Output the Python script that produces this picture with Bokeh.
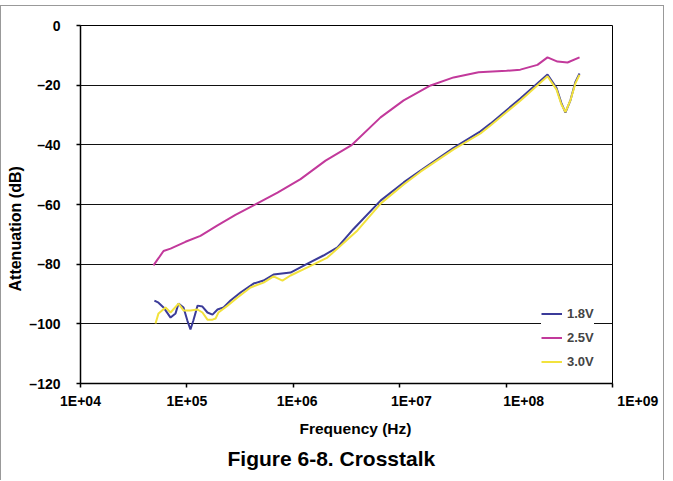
from bokeh.plotting import figure
from bokeh.models import (FixedTicker, CustomJSTickFormatter, Legend,
                          LegendItem, Title)
from bokeh.embed import file_html
from bokeh.resources import INLINE

# ---------------- data ----------------
freq_18 = [4.95e4, 5.41e4, 6.03e4, 7.02e4, 7.82e4, 8.34e4, 9.29e4, 1.01e5,
           1.08e5, 1.15e5, 1.26e5, 1.40e5, 1.56e5, 1.74e5, 1.94e5, 2.21e5,
           2.57e5, 3.19e5, 4.23e5, 5.25e5, 6.52e5, 9.42e5, 1.36e6, 1.92e6,
           2.60e6, 3.68e6, 6.61e6, 1.09e7, 1.57e7, 3.21e7, 5.74e7, 7.13e7,
           1.36e8, 2.45e8, 2.98e8, 3.31e8, 3.61e8, 4.03e8, 4.47e8, 4.90e8]
att_18 = [-92.2, -92.9, -94.5, -97.9, -96.5, -93.2, -94.5, -98.9,
          -101.9, -98.9, -93.9, -94.2, -96.2, -96.9, -95.2, -94.5,
          -92.2, -89.5, -86.5, -85.5, -83.5, -82.8, -79.8, -77.1,
          -74.4, -68.2, -58.7, -52.6, -48.6, -41.0, -35.5, -32.9,
          -24.5, -16.4, -21.0, -26.0, -29.2, -25.0, -19.0, -16.1]

freq_25 = [4.85e4, 5.41e4, 6.03e4, 7.02e4, 9.70e4, 1.34e5, 1.94e5, 2.86e5,
           4.23e5, 7.11e5, 1.17e6, 2.01e6, 3.50e6, 6.61e6, 1.09e7, 1.95e7,
           3.21e7, 5.51e7, 1.01e8, 1.36e8, 1.97e8, 2.45e8, 3.04e8, 3.78e8,
           4.90e8]
att_25 = [-80.4, -78.0, -75.6, -74.8, -72.5, -70.5, -67.0, -63.5,
          -60.3, -56.0, -51.5, -45.3, -40.2, -30.8, -25.1, -20.1,
          -17.4, -15.7, -15.2, -14.8, -13.2, -10.7, -12.1, -12.4,
          -10.7]

freq_30 = [5.07e4, 5.41e4, 6.30e4, 7.02e4, 8.34e4, 9.29e4, 1.08e5, 1.26e5,
           1.40e5, 1.56e5, 1.74e5, 1.86e5, 1.98e5, 2.41e5, 2.99e5, 3.96e5,
           5.25e5, 6.52e5, 7.91e5, 9.42e5, 1.36e6, 2.09e6, 4.01e6, 6.61e6,
           1.09e7, 1.57e7, 3.21e7, 5.74e7, 7.13e7, 1.36e8, 2.45e8, 2.98e8,
           3.31e8, 3.61e8, 4.03e8, 4.47e8, 4.90e8]
att_30 = [-99.9, -96.5, -94.5, -96.2, -93.2, -95.5, -95.5, -95.2,
          -96.2, -98.6, -98.6, -98.2, -96.2, -93.9, -91.2, -87.8,
          -86.2, -84.1, -85.5, -83.8, -81.1, -77.8, -68.7, -59.7,
          -53.3, -49.0, -41.5, -36.2, -33.5, -25.2, -17.0, -21.5,
          -26.5, -29.0, -25.0, -19.5, -16.5]

series_names = ["1.8V", "2.5V", "3.0V"]
x_ticks = [1e4, 1e5, 1e6, 1e7, 1e8, 1e9]
x_tick_labels = ["1E+04", "1E+05", "1E+06", "1E+07", "1E+08", "1E+09"]
y_ticks = [-120, -100, -80, -60, -40, -20, 0]

# ---------------- styles ----------------
FONT = "Liberation Sans"
colors = ["#3B3B99", "#C2399B", "#F2E23D"]
# the reference's x tick labels drift rightwards of their ticks;
# reproduce that with leading no-break spaces (count per label)
x_label_pad = [0, 0, 2, 6, 9, 13]

p = figure(width=664, height=475, x_axis_type="log",
           x_range=(1e4, 1e9), y_range=(-120, 0),
           output_backend="svg", toolbar_location=None,
           min_border_left=79, min_border_right=53,
           min_border_top=19, min_border_bottom=98)
p.styles = {"margin-top": "5px",
            "border-left": "1px solid #999999",
            "border-top": "1px solid #999999",
            "border-right": "1px solid #999999"}
p.title.visible = False

p.outline_line_color = "#000000"
p.outline_line_width = 1
p.background_fill_color = "white"
p.border_fill_color = "white"

p.xgrid.visible = False
p.ygrid.ticker = FixedTicker(ticks=y_ticks)
p.ygrid.grid_line_color = "#111111"
p.ygrid.grid_line_width = 1

p.xaxis.ticker = FixedTicker(ticks=x_ticks)
p.xaxis.major_label_overrides = {
    t: "\u00a0" * k + lab for t, lab, k in zip(x_ticks, x_tick_labels, x_label_pad)}
p.yaxis.ticker = FixedTicker(ticks=y_ticks)
p.yaxis.formatter = CustomJSTickFormatter(
    code="return tick < 0 ? '\\u2013' + Math.abs(tick) : String(tick);")

for ax in (p.xaxis[0], p.yaxis[0]):
    ax.axis_line_color = "#000000"
    ax.axis_line_width = 1.5
    ax.major_tick_line_color = "#000000"
    ax.major_tick_line_width = 1.5
    ax.major_tick_out = 4
    ax.major_tick_in = 0
    ax.minor_tick_out = 0
    ax.minor_tick_in = 0
    ax.major_label_text_font = FONT
    ax.major_label_text_font_style = "bold"
    ax.major_label_text_font_size = "14px"
    ax.major_label_text_color = "#000000"
p.yaxis.major_label_standoff = 16
p.xaxis.major_label_standoff = 5

r18 = p.line(freq_18, att_18, line_color=colors[0], line_width=2)
r25 = p.line(freq_25, att_25, line_color=colors[1], line_width=2)
r30 = p.line(freq_30, att_30, line_color=colors[2], line_width=2)

legend = Legend(items=[LegendItem(label=series_names[0], renderers=[r18]),
                       LegendItem(label=series_names[1], renderers=[r25]),
                       LegendItem(label=series_names[2], renderers=[r30])],
                location=(461, 12), background_fill_color="white",
                background_fill_alpha=1, border_line_color=None,
                label_text_font=FONT, label_text_font_style="bold",
                label_text_font_size="13px", glyph_width=21, glyph_height=19,
                spacing=5, padding=10, label_standoff=5, margin=0)
p.add_layout(legend)

# axis titles and figure caption (offsets measured from the frame edge)
p.add_layout(Title(text="Frequency (Hz)", align="left", offset=219,
                   standoff=13, text_font=FONT, text_font_style="bold",
                   text_font_size="15.5px", text_color="#000000"), "below")
p.add_layout(Title(text="Figure 6-8. Crosstalk", align="left", offset=147,
                   standoff=3, text_font=FONT, text_font_style="bold",
                   text_font_size="21px", text_color="#000000"), "below")
p.add_layout(Title(text="Attenuation (dB)", align="left", offset=92,
                   standoff=6, text_font=FONT, text_font_style="bold",
                   text_font_size="16px", text_color="#000000"), "left")

open("out.html", "w").write(file_html(p, INLINE))
